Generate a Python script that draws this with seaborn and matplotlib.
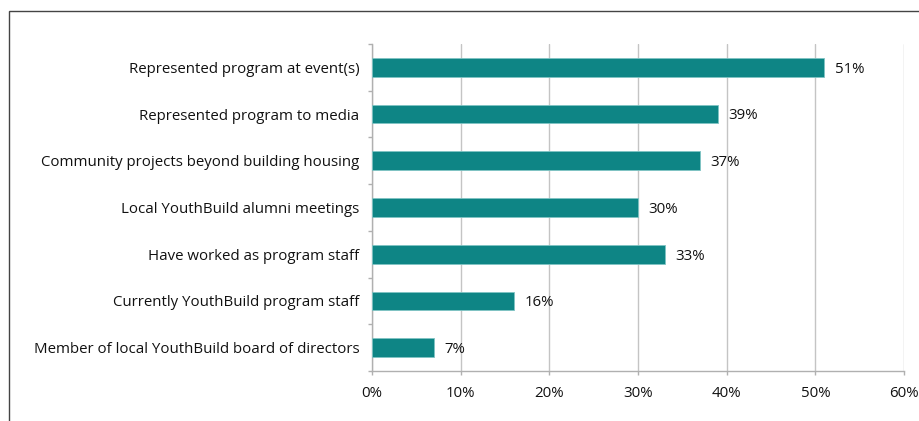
import seaborn as sns
import matplotlib.pyplot as plt
import matplotlib.patches as mpatches
import pandas as pd

# Datos del grafico
categorias = [
    "Represented program at event(s)",
    "Represented program to media",
    "Community projects beyond building housing",
    "Local YouthBuild alumni meetings",
    "Have worked as program staff",
    "Currently YouthBuild program staff",
    "Member of local YouthBuild board of directors",
]
valores = [51, 39, 37, 30, 33, 16, 7]
ticks_x = [0, 10, 20, 30, 40, 50, 60]

df = pd.DataFrame({"categoria": categorias, "valor": valores})

sns.set_style("white")
plt.rcParams["font.family"] = ["Open Sans", "DejaVu Sans"]

fig = plt.figure(figsize=(9.19, 4.21), dpi=100)
ax = fig.add_axes([0.4048, 0.1188, 0.5789, 0.7767])

sns.barplot(data=df, y="categoria", x="valor", color="#0e8585", width=0.4,
            edgecolor="#7fc4c4", linewidth=0.6, saturation=1, ax=ax, zorder=3)

tam = 10.85
color_texto = "#111111"

# Etiquetas de valor
for i, v in enumerate(valores):
    ax.text(v + 1.2, i + 0.04, f"{v}%", va="center", ha="left", fontsize=tam, color=color_texto)

ax.set_xlim(0, 60)
ax.set_ylim(len(categorias) - 0.5, -0.5)
ax.set_xticks(ticks_x)
ax.set_xticklabels([f"{t}%" for t in ticks_x], fontsize=tam, color=color_texto)
ax.set_yticks(range(len(categorias)))
ax.set_yticklabels(categorias, fontsize=tam, color=color_texto)
ax.set_xlabel("")
ax.set_ylabel("")

# Rejilla vertical
ax.xaxis.grid(True, color="#c4c4c4", linewidth=1, zorder=0)
ax.yaxis.grid(False)
ax.set_axisbelow(True)

for s in ["top", "right"]:
    ax.spines[s].set_visible(False)
for s in ["left", "bottom"]:
    ax.spines[s].set_color("#b0b0b0")
    ax.spines[s].set_linewidth(1)

# Marcas de los ejes
ax.tick_params(axis="x", which="major", bottom=True, direction="out", length=3,
               width=1, color="#b0b0b0", pad=8)
ax.tick_params(axis="y", which="major", left=False, length=0, pad=9)
ax.set_yticks([i - 0.5 for i in range(len(categorias) + 1)], minor=True)
ax.tick_params(axis="y", which="minor", left=True, direction="out", length=3,
               width=1, color="#b0b0b0")

# Marco exterior
fig.patches.append(mpatches.Rectangle((9 / 919, -0.1), 1.2, (421 - 11) / 421 + 0.1,
                                      transform=fig.transFigure, fill=False,
                                      edgecolor="#444444", linewidth=1, clip_on=False))

fig.savefig("out.png", dpi=100)
